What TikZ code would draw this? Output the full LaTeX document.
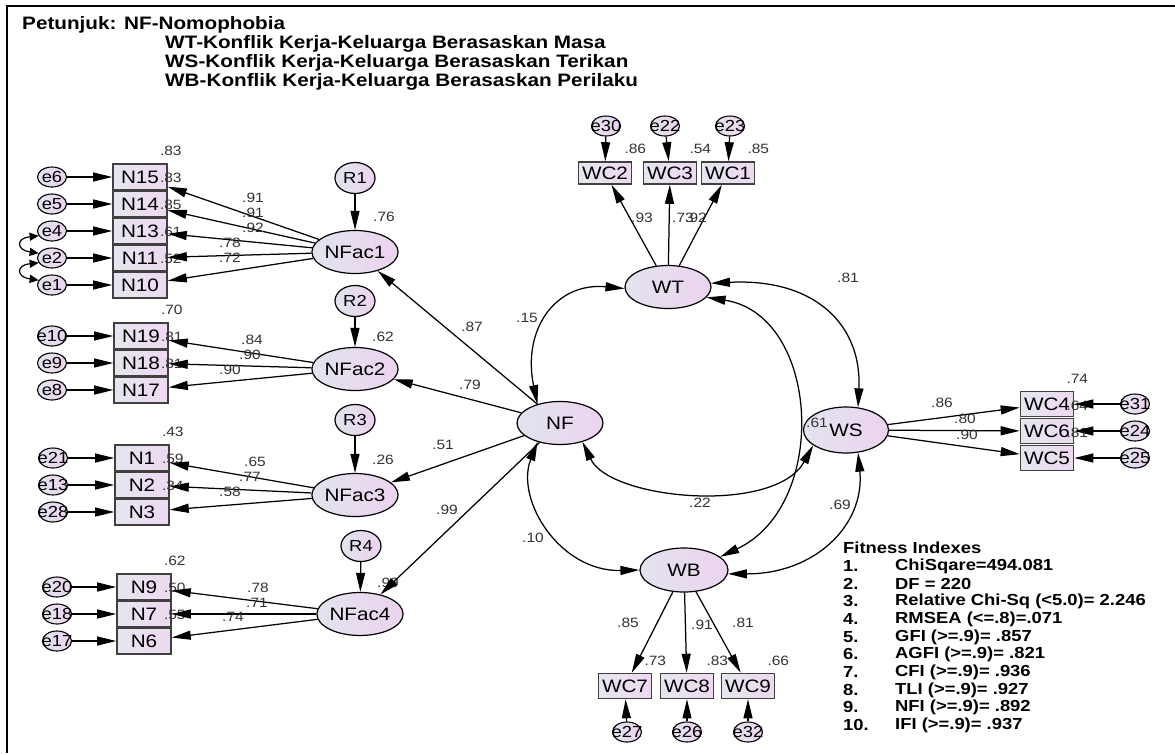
\documentclass[tikz,border=0pt]{standalone}
\usepackage{fontspec}
\setmainfont{Liberation Sans}[FakeStretch=1.15]
\usetikzlibrary{arrows.meta,shapes.geometric,calc}
\definecolor{latL}{HTML}{E2E3EE}
\definecolor{latR}{HTML}{ECD3EF}
\definecolor{boxL}{HTML}{E5E6EF}
\definecolor{boxR}{HTML}{EED8F1}
\definecolor{numc}{HTML}{333333}
\newcommand\fsNode{\fontsize{18}{20}\selectfont}
\newcommand\fsErr{\fontsize{16}{18}\selectfont}
\newcommand\fsRes{\fontsize{16}{18}\selectfont}
\newcommand\fsNum{\fontsize{13.5}{15}\selectfont}
\newcommand\fsHead{\bfseries\fontsize{18}{20}\selectfont}
\newcommand\fsFit{\bfseries\fontsize{16}{18}\selectfont}
\begin{document}
\begin{tikzpicture}[x=1pt,y=-1pt,
  lat/.style={ellipse, draw, line width=1.2pt, left color=latL, right color=latR,
    minimum width=86pt, minimum height=43pt, inner sep=0pt, font=\fsNode},
  resid/.style={ellipse, draw, line width=1.2pt, left color=latL, right color=latR,
    minimum width=40pt, minimum height=31pt, inner sep=0pt, font=\fsRes},
  errc/.style={ellipse, draw, line width=1.1pt, left color=latL, right color=latR,
    minimum width=29pt, minimum height=20pt, inner sep=0pt},
  elab/.style={font=\fsErr, inner sep=0pt},
  obs/.style={rectangle, draw=black!75, line width=1.6pt, left color=boxL, right color=boxR,
    minimum width=54pt, minimum height=26pt, inner sep=0pt, font=\fsNode},
  obsw/.style={obs, minimum width=53pt, minimum height=25pt},
  obst/.style={obs, minimum width=53pt, minimum height=22pt},
  arr/.style={-{Triangle[length=19pt,width=9pt]}, line width=1.25pt},
  cov/.style={{Triangle[length=19pt,width=9pt]}-{Triangle[length=19pt,width=9pt]}, line width=1.25pt},
  smallcov/.style={{Triangle[length=9pt,width=8pt]}-{Triangle[length=9pt,width=8pt]}, line width=1.2pt},
  num/.style={font=\fsNum, text=numc, inner sep=0pt},
  head/.style={font=\fsHead, anchor=west, inner sep=0pt},
  fitx/.style={font=\fsFit, anchor=west, inner sep=0pt}
]
\useasboundingbox (0,0) rectangle (1175,753);
\fill[white] (0,0) rectangle (1175,753);
\draw[line width=2.5pt] (7,753) -- (7,6) -- (1175,6);

% header
\node[head] (h1) at (22,25) {Petunjuk: NF-Nomophobia};
\node[head] (h2) at (165,44) {WT-Konflik Kerja-Keluarga Berasaskan Masa};
\node[head] (h3) at (165,63) {WS-Konflik Kerja-Keluarga Berasaskan Terikan};
\node[head] (h4) at (165,82) {WB-Konflik Kerja-Keluarga Berasaskan Perilaku};

% ---------- NFac1 group
\node[lat] (NFac1) at (355,252) {NFac1};
\node[resid] (R1) at (355,178) {R1};
\foreach \n/\y in {N15/177,N14/204,N13/231,N11/258,N10/285}{\node[obs] (\n) at (140,\y) {\n};}
\foreach \e/\y in {e6/177,e5/204,e4/231,e2/258,e1/285}{\node[errc, label={[elab]center:\e}] (\e) at (52,\y) {};}
% ---------- NFac2 group
\node[lat] (NFac2) at (355,369) {NFac2};
\node[resid] (R2) at (355,301) {R2};
\foreach \n/\y in {N19/336,N18/363,N17/390}{\node[obs] (\n) at (141,\y) {\n};}
\foreach \e/\y in {e10/336,e9/363,e8/390}{\node[errc, label={[elab]center:\e}] (\e) at (52,\y) {};}
% ---------- NFac3 group
\node[lat] (NFac3) at (355,495) {NFac3};
\node[resid] (R3) at (355,420) {R3};
\foreach \n/\y in {N1/458,N2/485,N3/512}{\node[obs] (\n) at (142,\y) {\n};}
\foreach \e/\y in {e21/458,e13/485,e28/512}{\node[errc, label={[elab]center:\e}] (\e) at (53,\y) {};}
% ---------- NFac4 group
\node[lat] (NFac4) at (360,614) {NFac4};
\node[resid] (R4) at (361,546) {R4};
\foreach \n/\y in {N9/587,N7/614,N6/641}{\node[obs] (\n) at (144,\y) {\n};}
\foreach \e/\y in {e20/587,e18/614,e17/641}{\node[errc, label={[elab]center:\e}] (\e) at (57,\y) {};}

% ---------- central latents
\node[lat] (NF) at (560,423) {NF};
\node[lat] (WT) at (668,287) {WT};
\node[lat, minimum width=85pt, minimum height=46pt] (WS) at (846,430) {WS};
\node[lat, minimum width=88pt, minimum height=44pt] (WB) at (684,570) {WB};

% WT indicators
\foreach \n/\x in {WC2/605,WC3/670,WC1/728}{\node[obst] (\n) at (\x,173) {\n};}
\foreach \e/\x in {e30/606,e22/665,e23/730}{\node[errc, label={[elab]center:\e}] (\e) at (\x,126) {};}
% WS indicators
\foreach \n/\y in {WC4/404,WC6/431,WC5/458}{\node[obsw] (\n) at (1047,\y) {\n};}
\foreach \e/\y in {e31/404,e24/431,e25/458}{\node[errc, label={[elab]center:\e}] (\e) at (1135,\y) {};}
% WB indicators
\foreach \n/\x in {WC7/625,WC8/687,WC9/748}{\node[obsw] (\n) at (\x,686) {\n};}
\foreach \e/\x in {e27/627,e26/687,e32/748}{\node[errc, label={[elab]center:\e}] (\e) at (\x,732) {};}

% ---------- squared multiple correlations of indicators (drawn below arrows)
\foreach \n/\v in {N15/.83,N14/.83,N13/.85,N11/.61,N10/.52,N19/.70,N18/.81,N17/.81,
  N1/.43,N2/.59,N3/.34,N9/.62,N7/.50,N6/.55,WC2/.86,WC3/.54,WC1/.85,
  WC4/.74,WC6/.64,WC5/.81,WC7/.73,WC8/.83,WC9/.66}{
  \node[num] at ($(\n.north east)+(3,-12)$) {\v};}
% factor R2
\node[num] (r1) at (384,217) {.76};
\node[num] (r2) at (383,337) {.62};
\node[num] (r3) at (383,460) {.26};
\node[num] (r4) at (388,583) {.99};
\node[num] (rws) at (817,423) {.61};

% ---------- arrows: errors to indicators
\foreach \e/\n in {e6/N15,e5/N14,e4/N13,e2/N11,e1/N10,e10/N19,e9/N18,e8/N17,
  e21/N1,e13/N2,e28/N3,e20/N9,e18/N7,e17/N6,e30/WC2,e22/WC3,e23/WC1,
  e31/WC4,e24/WC6,e25/WC5,e27/WC7,e26/WC8,e32/WC9}{
  \draw[arr] (\e) -- (\n);}
% residuals
\foreach \r/\f in {R1/NFac1,R2/NFac2,R3/NFac3,R4/NFac4}{\draw[arr] (\r) -- (\f);}
% loadings
\foreach \n in {N15,N14,N13,N11,N10}{\draw[arr] (NFac1) -- (\n);}
\foreach \n in {N19,N18,N17}{\draw[arr] (NFac2) -- (\n);}
\foreach \n in {N1,N2,N3}{\draw[arr] (NFac3) -- (\n);}
\foreach \n in {N9,N7,N6}{\draw[arr] (NFac4) -- (\n);}
\foreach \f in {NFac1,NFac2,NFac3,NFac4}{\draw[arr] (NF) -- (\f);}
\foreach \n in {WC2,WC3,WC1}{\draw[arr] (WT) -- (\n);}
\foreach \n in {WC4,WC6,WC5}{\draw[arr] (WS) -- (\n);}
\foreach \n in {WC7,WC8,WC9}{\draw[arr] (WB) -- (\n);}

% small covariances at left edge
\draw[smallcov] (e4.200) .. controls (16,238) and (16,250) .. (e2.160);
\draw[smallcov] (e2.200) .. controls (16,265) and (16,277) .. (e1.160);

% ---------- covariances between latents
\draw[cov] (WT.182) .. controls (555,282) and (522,330) .. (NF.140);
\draw[cov] (NF.220) .. controls (515,500) and (560,572) .. (WB.west);
\draw[cov] (NF.-40) .. controls (610,500) and (775,515) .. (WS.205);
\draw[cov] (WT.-15) .. controls (820,315) and (830,505) .. (WB.20);
\draw[cov] (WT.5) .. controls (815,278) and (862,325) .. (WS.62);
\draw[cov] (WS.-62) .. controls (865,525) and (815,574) .. (WB.-5);

% ---------- path labels
\node[num] at (253,198) {.91};
\node[num] at (253,213) {.91};
\node[num] at (253,228) {.92};
\node[num] at (230,243) {.78};
\node[num] at (230,258) {.72};
\node[num] at (252,340) {.84};
\node[num] at (250,355) {.90};
\node[num] at (230,370) {.90};
\node[num] at (255,462) {.65};
\node[num] at (250,477) {.77};
\node[num] at (230,492) {.58};
\node[num] at (258,588) {.78};
\node[num] at (257,603) {.71};
\node[num] at (233,617) {.74};
\node[num] at (472,327) {.87};
\node[num] at (470,385) {.79};
\node[num] at (443,445) {.51};
\node[num] at (447,510) {.99};
\node[num] at (527,318) {.15};
\node[num] at (533,538) {.10};
\node[num] at (700,503) {.22};
\node[num] at (848,278) {.81};
\node[num] at (840,505) {.69};
\node[num] at (642,218) {.93};
\node[num] at (683,218) {.73};
\node[num] at (696,218) {.92};
\node[num] at (942,403) {.86};
\node[num] at (965,419) {.80};
\node[num] at (967,435) {.90};
\node[num] at (628,623) {.85};
\node[num] at (702,625) {.91};
\node[num] at (743,623) {.81};

% ---------- fitness indexes
\node[fitx] (fi) at (843,548) {Fitness Indexes};
\foreach \k/\y/\t in {1./566/{ChiSqare=494.081},2./584/{DF = 220},
  3./601/{Relative Chi-Sq (<5.0)= 2.246},4./619/{RMSEA (<=.8)=.071},
  5./637/{GFI (>=.9)= .857},6./654/{AGFI (>=.9)= .821},7./672/{CFI (>=.9)= .936},
  8./690/{TLI (>=.9)= .927},9./707/{NFI (>=.9)= .892},10./725/{IFI (>=.9)= .937}}{
  \node[fitx] at (843,\y) {\k};
  \node[fitx] at (895,\y) {\t};}
\end{tikzpicture}
\end{document}
